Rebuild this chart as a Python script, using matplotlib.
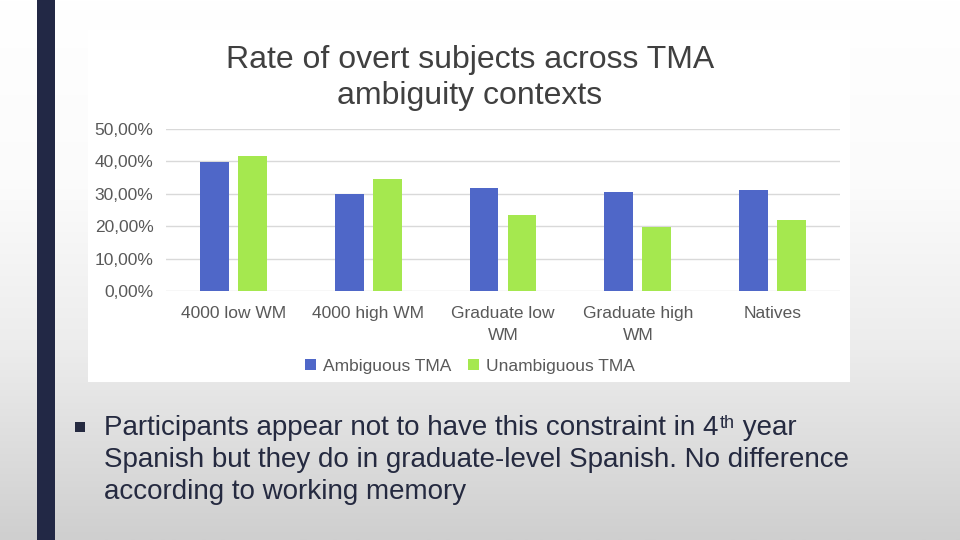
import numpy as np
import matplotlib.pyplot as plt
from matplotlib.patches import Rectangle
from matplotlib.colors import LinearSegmentedColormap

# chart data
groups = ["4000 low WM", "4000 high WM", "Graduate low\nWM", "Graduate high\nWM", "Natives"]
ambiguous = [0.398, 0.300, 0.318, 0.306, 0.312]
unambiguous = [0.417, 0.346, 0.235, 0.198, 0.219]
series_names = ["Ambiguous TMA", "Unambiguous TMA"]
y_ticks = [0.0, 0.1, 0.2, 0.3, 0.4, 0.5]

title = "Rate of overt subjects across TMA\nambiguity contexts"
bullet_lines = [
    "Participants appear not to have this constraint in 4",
    "Spanish but they do in graduate-level Spanish. No difference",
    "according to working memory",
]

plt.rcParams['font.family'] = ['Liberation Sans', 'DejaVu Sans']

W, H = 960, 540
fig = plt.figure(figsize=(9.6, 5.4), dpi=100)

# slide background: light gradient going gray toward the bottom
bg = fig.add_axes([0, 0, 1, 1], zorder=-10)
bg.axis("off")
cmap = LinearSegmentedColormap.from_list(
    "slide", [(0, "#ffffff"), (0.35, "#fbfbfb"), (0.65, "#ececec"), (1, "#cfcfcf")])
grad = np.linspace(0, 1, 256).reshape(-1, 1)
bg.imshow(grad, aspect="auto", cmap=cmap, extent=[0, 1, 0, 1], origin="upper")
bg.set_xlim(0, 1)
bg.set_ylim(0, 1)

# navy stripe on the left
bg.add_patch(Rectangle((37 / W, 0), 18 / W, 1, color="#222845", lw=0))
# white chart box
bg.add_patch(Rectangle((88 / W, 1 - 382 / H), (850 - 88) / W, (382 - 30) / H,
                       color="white", lw=0))

# bar chart
ax = fig.add_axes([166 / W, 1 - 291 / H, 674 / W, 162 / H])
ax.set_facecolor("none")
x = np.arange(len(groups))
bw = 0.215
off = 0.141
b1 = ax.bar(x - off, ambiguous, bw, color="#4f67c8", label=series_names[0], zorder=3)
b2 = ax.bar(x + off, unambiguous, bw, color="#a5e84f", label=series_names[1], zorder=3)

ax.set_xlim(-0.5, len(groups) - 0.5)
ax.set_ylim(0, 0.5)
ax.set_yticks(y_ticks)
ax.set_yticklabels([f"{v * 100:.2f}%".replace(".", ",") for v in y_ticks])
ax.set_xticks(x)
ax.set_xticklabels(groups, linespacing=1.55)
ax.grid(axis="y", color="#d9d9d9", lw=1, zorder=0)
for s in ax.spines.values():
    s.set_visible(False)
ax.tick_params(axis="both", length=0, labelsize=12.5, colors="#595959")
ax.tick_params(axis="y", pad=9)
ax.tick_params(axis="x", pad=11)

fig.text(470 / W, 1 - 78 / H, title, ha="center", va="center", fontsize=23,
         color="#404040", linespacing=1.27)

fig.legend(handles=[b1, b2], loc="center", bbox_to_anchor=(470 / W, 1 - 366 / H),
           ncol=2, frameon=False, fontsize=12.5, handlelength=0.6, handleheight=0.6,
           handletextpad=0.4, columnspacing=1.0, labelcolor="#595959")

# bullet text
bg.add_patch(Rectangle((75 / W, 1 - 432 / H), 10 / W, 10 / H, color="#252a40", lw=0))
ys = [428, 460, 492]
txt_color = "#252a40"
t1 = fig.text(104 / W, 1 - ys[0] / H, bullet_lines[0], ha="left", va="center",
              fontsize=20, color=txt_color)
sup = plt.annotate("th", xy=(1, 1), xycoords=t1, xytext=(1, 0), textcoords="offset points",
                   ha="left", va="top", fontsize=13, color=txt_color)
plt.annotate(" year", xy=(1, 0), xycoords=(sup, t1), ha="left", va="bottom",
             fontsize=20, color=txt_color)
for line, y in zip(bullet_lines[1:], ys[1:]):
    fig.text(104 / W, 1 - y / H, line, ha="left", va="center", fontsize=20, color=txt_color)

fig.savefig("out.png", dpi=100)
